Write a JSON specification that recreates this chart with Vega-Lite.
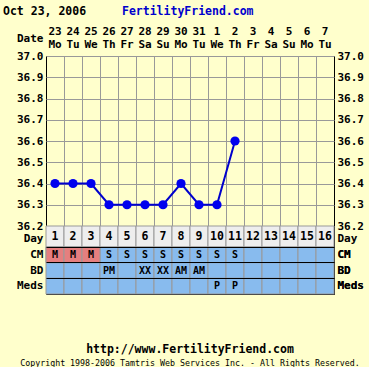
{
  "$schema": "https://vega.github.io/schema/vega-lite/v6.json",
  "background": "#FFFFCC",
  "padding": {"left": 3, "top": 5, "right": 5, "bottom": 0},
  "spacing": 0,
  "bounds": "flush",
  "config": {
    "font": "DejaVu Sans Mono",
    "view": {"stroke": "#000000", "strokeWidth": 1},
    "concat": {"spacing": 0},
    "axis": {
      "labelFont": "DejaVu Sans Mono",
      "labelFontWeight": "bold",
      "labelFontSize": 11,
      "labelColor": "#000000",
      "ticks": false,
      "domain": false,
      "labelPadding": 3,
      "title": null
    },
    "title": {"font": "DejaVu Sans Mono", "fontWeight": "bold", "fontSize": 11.5, "color": "#000000"}
  },
  "title": {"text": "Oct 23, 2006", "anchor": "start", "dx": -13, "offset": -12},
  "datasets": {
    "days": [
      {"day": 1, "date": "23", "wd": "Mo", "temp": 36.4, "CM": "M", "BD": "", "Meds": ""},
      {"day": 2, "date": "24", "wd": "Tu", "temp": 36.4, "CM": "M", "BD": "", "Meds": ""},
      {"day": 3, "date": "25", "wd": "We", "temp": 36.4, "CM": "M", "BD": "", "Meds": ""},
      {"day": 4, "date": "26", "wd": "Th", "temp": 36.3, "CM": "S", "BD": "PM", "Meds": ""},
      {"day": 5, "date": "27", "wd": "Fr", "temp": 36.3, "CM": "S", "BD": "", "Meds": ""},
      {"day": 6, "date": "28", "wd": "Sa", "temp": 36.3, "CM": "S", "BD": "XX", "Meds": ""},
      {"day": 7, "date": "29", "wd": "Su", "temp": 36.3, "CM": "S", "BD": "XX", "Meds": ""},
      {"day": 8, "date": "30", "wd": "Mo", "temp": 36.4, "CM": "S", "BD": "AM", "Meds": ""},
      {"day": 9, "date": "31", "wd": "Tu", "temp": 36.3, "CM": "S", "BD": "AM", "Meds": ""},
      {"day": 10, "date": "1", "wd": "We", "temp": 36.3, "CM": "S", "BD": "", "Meds": "P"},
      {"day": 11, "date": "2", "wd": "Th", "temp": 36.6, "CM": "S", "BD": "", "Meds": "P"},
      {"day": 12, "date": "3", "wd": "Fr", "temp": null, "CM": "", "BD": "", "Meds": ""},
      {"day": 13, "date": "4", "wd": "Sa", "temp": null, "CM": "", "BD": "", "Meds": ""},
      {"day": 14, "date": "5", "wd": "Su", "temp": null, "CM": "", "BD": "", "Meds": ""},
      {"day": 15, "date": "6", "wd": "Mo", "temp": null, "CM": "", "BD": "", "Meds": ""},
      {"day": 16, "date": "7", "wd": "Tu", "temp": null, "CM": "", "BD": "", "Meds": ""}
    ]
  },
  "vconcat": [
    {
      "width": 288,
      "height": 24,
      "view": {"stroke": null},
      "title": {"text": "FertilityFriend.com", "anchor": "start", "frame": "group", "dx": 76, "color": "#0000CC", "offset": 9},
      "data": {"name": "days"},
      "encoding": {
        "x": {"field": "day", "type": "ordinal", "scale": {"type": "band", "paddingInner": 0, "paddingOuter": 0}, "axis": null}
      },
      "layer": [
        {
          "mark": {"type": "text", "fontWeight": "bold", "fontSize": 11, "color": "#000000", "baseline": "middle"},
          "encoding": {
            "y": {"datum": 1.96, "type": "quantitative", "scale": {"domain": [0, 2]}, "axis": {"values": [1.46], "labelExpr": "'Date'", "grid": false}},
            "text": {"field": "date"}
          }
        },
        {
          "mark": {"type": "text", "fontWeight": "bold", "fontSize": 11, "color": "#000000", "baseline": "middle"},
          "encoding": {
            "y": {"datum": 0.88, "type": "quantitative"},
            "text": {"field": "wd"}
          }
        }
      ]
    },
    {
      "width": 288,
      "height": 170,
      "data": {"name": "days"},
      "transform": [{"filter": "datum.temp != null"}],
      "encoding": {
        "x": {"field": "day", "type": "quantitative", "scale": {"domain": [0.5, 16.5], "nice": false, "zero": false},
          "axis": {"values": [1.5, 2.5, 3.5, 4.5, 5.5, 6.5, 7.5, 8.5, 9.5, 10.5, 11.5, 12.5, 13.5, 14.5, 15.5], "labels": false, "grid": true, "gridColor": "#999999", "gridOpacity": 1}}
      },
      "layer": [
        {
          "mark": {"type": "line", "color": "#0000CC", "strokeWidth": 2},
          "encoding": {
            "y": {"field": "temp", "type": "quantitative", "scale": {"domain": [36.2, 37.0], "zero": false, "nice": false},
              "axis": {"orient": "left", "values": [36.2, 36.3, 36.4, 36.5, 36.6, 36.7, 36.8, 36.9, 37.0], "format": ".1f", "grid": true, "gridColor": "#999999", "gridOpacity": 1}}
          }
        },
        {
          "mark": {"type": "point", "filled": true, "size": 85, "color": "#0000EE", "opacity": 1},
          "encoding": {
            "y": {"field": "temp", "type": "quantitative",
              "axis": {"orient": "right", "values": [36.2, 36.3, 36.4, 36.5, 36.6, 36.7, 36.8, 36.9, 37.0], "format": ".1f", "grid": false, "labelAlign": "left"}}
          }
        }
      ],
      "resolve": {"axis": {"y": "independent"}}
    },
    {
      "width": 288,
      "height": 21,
      "data": {"name": "days"},
      "encoding": {
        "x": {"field": "day", "type": "ordinal", "scale": {"type": "band", "paddingInner": 0, "paddingOuter": 0}, "axis": null}
      },
      "layer": [
        {
          "mark": {"type": "rect", "fill": "#EEEEEE", "stroke": "#999999", "strokeWidth": 1},
          "encoding": {
            "y": {"datum": "Day", "type": "nominal", "scale": {"type": "band", "paddingInner": 0, "paddingOuter": 0}, "axis": {"orient": "left", "labelOffset": 2}}
          }
        },
        {
          "mark": {"type": "text", "fontWeight": "bold", "fontSize": 11.5, "color": "#000000", "baseline": "middle"},
          "encoding": {
            "y": {"datum": "Day", "type": "nominal", "axis": {"orient": "right", "labelAlign": "left", "labelOffset": 2}},
            "text": {"field": "day", "type": "nominal"}
          }
        }
      ],
      "resolve": {"axis": {"y": "independent"}}
    },
    {
      "width": 288,
      "height": 47,
      "title": {
        "text": "http://www.FertilityFriend.com",
        "subtitle": "Copyright 1998-2006 Tamtris Web Services Inc. - All Rights Reserved.",
        "orient": "bottom",
        "anchor": "middle",
        "frame": "group",
        "offset": 49,
        "subtitleFont": "DejaVu Sans Mono",
        "subtitleFontSize": 8.3,
        "subtitleFontWeight": "normal",
        "subtitleColor": "#000000",
        "subtitlePadding": 4
      },
      "data": {"name": "days"},
      "transform": [{"fold": ["CM", "BD", "Meds"], "as": ["row", "val"]}],
      "encoding": {
        "x": {"field": "day", "type": "ordinal", "scale": {"type": "band", "paddingInner": 0, "paddingOuter": 0}, "axis": null}
      },
      "layer": [
        {
          "mark": {"type": "rect", "fill": "#88BBEE", "stroke": "#999999", "strokeWidth": 1},
          "encoding": {
            "y": {"field": "row", "type": "nominal", "sort": ["CM", "BD", "Meds"], "scale": {"type": "band", "domain": ["CM", "BD", "Meds"], "paddingInner": 0, "paddingOuter": 0},
              "axis": {"orient": "left", "grid": true, "gridColor": "#000000", "gridOpacity": 1, "bandPosition": 0, "zindex": 1}}
          }
        },
        {
          "transform": [{"filter": "datum.row == 'CM' && datum.val == 'M'"}],
          "mark": {"type": "rect", "fill": "#E57F7F", "stroke": "#999999", "strokeWidth": 1},
          "encoding": {
            "y": {"field": "row", "type": "nominal"}
          }
        },
        {
          "mark": {"type": "text", "fontWeight": "bold", "fontSize": 10, "color": "#000000", "baseline": "middle"},
          "encoding": {
            "y": {"field": "row", "type": "nominal", "axis": {"orient": "right", "labelAlign": "left"}},
            "text": {"field": "val", "type": "nominal"}
          }
        }
      ],
      "resolve": {"axis": {"y": "independent"}}
    }
  ]
}
